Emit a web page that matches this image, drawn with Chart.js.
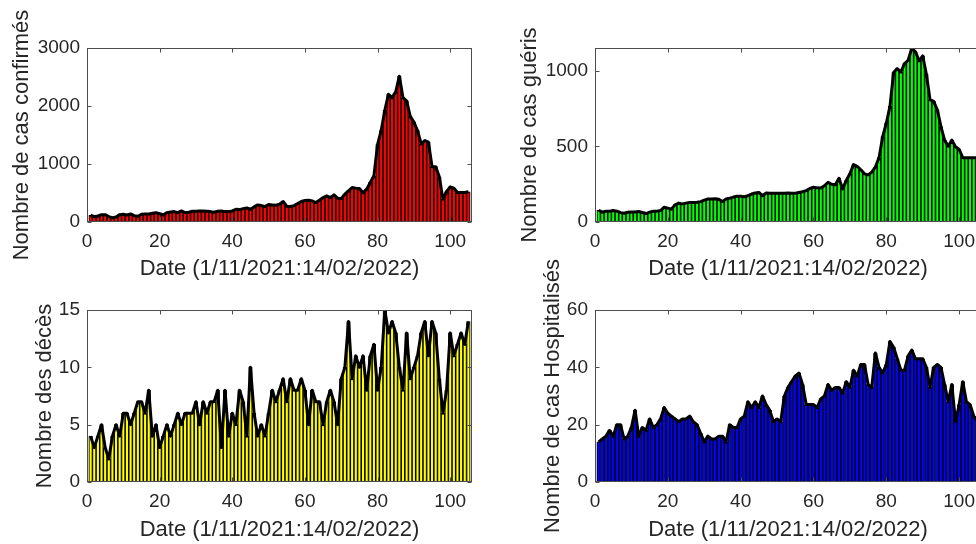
<!DOCTYPE html>
<html>
<head>
<meta charset="utf-8">
<script src="https://cdn.jsdelivr.net/npm/chart.js@4.4.0/dist/chart.umd.min.js"></script>
<style>
  html, body { margin: 0; padding: 0; background: #fff; width: 976px; height: 544px; overflow: hidden; }
  canvas { position: absolute; }
</style>
</head>
<body>
<canvas id="confirmes" width="488" height="285" style="left:0;top:0"></canvas>
<canvas id="gueris" width="520" height="285" style="left:488px;top:0"></canvas>
<canvas id="deces" width="488" height="304" style="left:0;top:240px"></canvas>
<canvas id="hospitalises" width="520" height="304" style="left:488px;top:240px"></canvas>
<script>
// jours du 1/11/2021 au 14/02/2022
const days = Array.from({ length: 105 }, (_, i) => i + 1);
const xTicks = [0, 20, 40, 60, 80, 100];
const xLabel = 'Date (1/11/2021:14/02/2022)';

const confirmes = [
  116, 92, 104, 127, 127, 92, 75, 87, 127, 133,
  121, 139, 110, 98, 133, 139, 139, 150, 162, 145,
  121, 162, 173, 179, 162, 191, 162, 168, 185, 185,
  191, 191, 185, 179, 168, 185, 191, 179, 179, 191,
  220, 214, 231, 243, 220, 260, 295, 283, 266, 300,
  295, 289, 306, 353, 272, 266, 283, 318, 353, 370,
  376, 364, 335, 376, 422, 451, 422, 468, 410, 405,
  480, 538, 595, 584, 578, 503, 566, 682, 798, 1335,
  1578, 1925, 2202, 2144, 2243, 2514, 2144, 2087, 1821, 1722,
  1578, 1347, 1405, 1376, 954, 954, 780, 393, 526, 607,
  584, 509, 509, 509, 520
];
const gueris = [
  78, 65, 72, 72, 76, 72, 62, 58, 65, 67,
  67, 69, 63, 56, 65, 72, 72, 76, 98, 92,
  85, 114, 125, 120, 125, 129, 129, 131, 135, 145,
  152, 152, 154, 150, 136, 152, 158, 165, 170, 170,
  167, 174, 185, 192, 196, 174, 192, 190, 190, 190,
  190, 190, 192, 190, 190, 195, 200, 208, 222, 230,
  226, 225, 240, 263, 250, 246, 290, 219, 275, 319,
  380, 368, 346, 319, 312, 330, 364, 426, 565, 654,
  766, 989, 1016, 993, 1049, 1071, 1152, 1127, 1067, 1100,
  978, 810, 799, 743, 632, 542, 502, 542, 498, 480,
  426, 426, 426, 426, 426
];
const deces = [
  4, 3, 4, 5, 3, 2, 4, 5, 4, 6,
  6, 5, 6, 7, 7, 6, 8, 4, 5, 3,
  4, 5, 4, 5, 6, 5, 6, 6, 6, 7,
  5, 7, 6, 7, 7, 8, 3, 8, 4, 6,
  5, 8, 7, 4, 10, 6, 4, 5, 4, 6,
  8, 7, 8, 9, 7, 9, 8, 8, 9, 8,
  5, 8, 7, 7, 5, 7, 8, 7, 5, 9,
  10, 14, 9, 11, 10, 11, 8, 11, 12, 8,
  10, 15, 13, 14, 13, 10, 8, 13, 9, 10,
  11, 13, 14, 11, 14, 13, 9, 6, 8, 13,
  11, 12, 13, 12, 14
];
const hospitalises = [
  14, 15, 16, 18, 16, 20, 20, 15, 16, 19,
  25, 16, 19, 18, 22, 19, 20, 22, 26, 24,
  23, 22, 21, 22, 22, 23, 21, 20, 17, 14,
  16, 15, 15, 16, 16, 14, 20, 19, 19, 22,
  23, 28, 26, 28, 26, 30, 27, 25, 21, 22,
  21, 30, 33, 35, 37, 38, 34, 27, 27, 27,
  26, 29, 30, 34, 32, 33, 33, 31, 35, 33,
  39, 37, 41, 41, 34, 33, 45, 40, 38, 41,
  49, 47, 43, 39, 39, 44, 46, 43, 43, 43,
  40, 33, 40, 41, 40, 34, 28, 34, 21, 27,
  35, 28, 27, 23, 21
];

const yTicksConfirmes = [0, 1000, 2000, 3000];
const yTicksGueris = [0, 500, 1000];
const yTicksDeces = [0, 5, 10, 15];
const yTicksHospitalises = [0, 20, 40, 60];

const textColor = '#262626';
const fontFamily = '"Liberation Sans", Arial, Helvetica, sans-serif';

// boîte d'axes façon MATLAB : cadre complet et graduations vers l'intérieur
const matlabAxes = {
  id: 'matlabAxes',
  afterDraw(chart) {
    const { ctx, chartArea: a, scales } = chart;
    const L = Math.round(a.left) + 0.5, R = Math.round(a.right) - 0.5;
    const T = Math.round(a.top) + 0.5, B = Math.round(a.bottom) - 0.5;
    const len = 4;
    ctx.save();
    ctx.strokeStyle = '#4d4d4d';
    ctx.lineWidth = 1;
    ctx.strokeRect(L, T, R - L, B - T);
    ctx.beginPath();
    scales.x.ticks.forEach(t => {
      const px = Math.round(scales.x.getPixelForValue(t.value)) + 0.5;
      ctx.moveTo(px, B); ctx.lineTo(px, B - len);
      ctx.moveTo(px, T); ctx.lineTo(px, T + len);
    });
    scales.y.ticks.forEach(t => {
      const py = Math.round(scales.y.getPixelForValue(t.value)) + 0.5;
      ctx.moveTo(L, py); ctx.lineTo(L + len, py);
      ctx.moveTo(R, py); ctx.lineTo(R - len, py);
    });
    ctx.stroke();
    ctx.restore();
  }
};

function makePanel(id, values, color, yLabel, yMax, yTicks, box) {
  const points = days.map((d, i) => ({ x: d, y: values[i] }));
  return new Chart(document.getElementById(id), {
    type: 'bar',
    data: {
      datasets: [
        {
          type: 'line',
          data: points,
          borderColor: '#000',
          borderWidth: 3,
          borderJoinStyle: 'round',
          pointRadius: 0,
          tension: 0,
          order: 0
        },
        {
          type: 'bar',
          data: points,
          backgroundColor: color,
          borderColor: '#000',
          borderWidth: { left: 1.1, right: 1.1, top: 1, bottom: 0 },
          borderSkipped: false,
          barPercentage: 1,
          categoryPercentage: 1,
          order: 1
        }
      ]
    },
    options: {
      responsive: false,
      animation: false,
      events: [],
      layout: { padding: { top: box.padTop, right: box.padRight, left: 0, bottom: 0 } },
      plugins: { legend: { display: false }, tooltip: { enabled: false } },
      scales: {
        x: {
          type: 'linear',
          min: 0,
          max: 106,
          offset: false,
          grid: { display: false, drawTicks: false },
          border: { display: false },
          afterBuildTicks: s => { s.ticks = xTicks.map(v => ({ value: v })); },
          afterFit: s => { s.height = box.xHeight; },
          ticks: {
            autoSkip: false, maxRotation: 0, padding: 8,
            color: textColor, font: { family: fontFamily, size: 19 },
            callback: v => String(v)
          },
          title: {
            display: true, text: xLabel, color: textColor,
            font: { family: fontFamily, size: 22 },
            padding: { top: 0, bottom: box.xTitlePad }
          }
        },
        y: {
          min: 0,
          max: yMax,
          grid: { display: false, drawTicks: false },
          border: { display: false },
          afterBuildTicks: s => { s.ticks = yTicks.map(v => ({ value: v })); },
          afterFit: s => { s.width = box.yWidth; },
          ticks: {
            autoSkip: false, padding: 7,
            color: textColor, font: { family: fontFamily, size: 19 },
            callback: v => String(v)
          },
          title: {
            display: true, text: yLabel, color: textColor,
            font: { family: fontFamily, size: 22 },
            padding: { top: box.yTitlePad, bottom: 0 }
          }
        }
      }
    },
    plugins: [matlabAxes]
  });
}

makePanel('confirmes', confirmes, '#ff0000', 'Nombre de cas confirmés', 3000, yTicksConfirmes,
  { padTop: 48, padRight: 16, yWidth: 87, xHeight: 63, yTitlePad: 8.8, xTitlePad: 2.8 });
makePanel('gueris', gueris, '#00ff00', 'Nombre de cas guéris', Math.max(...gueris), yTicksGueris,
  { padTop: 48, padRight: 27, yWidth: 107, xHeight: 63, yTitlePad: 28.8, xTitlePad: 2.8 });
makePanel('deces', deces, '#ffff00', 'Nombre des décès', 15, yTicksDeces,
  { padTop: 70, padRight: 16, yWidth: 87, xHeight: 62, yTitlePad: 31.8, xTitlePad: 0.8 });
makePanel('hospitalises', hospitalises, '#0000ff', 'Nombre de cas Hospitalisés', 60, yTicksHospitalises,
  { padTop: 70, padRight: 27, yWidth: 107, xHeight: 62, yTitlePad: 51.8, xTitlePad: 0.8 });
</script>
</body>
</html>
